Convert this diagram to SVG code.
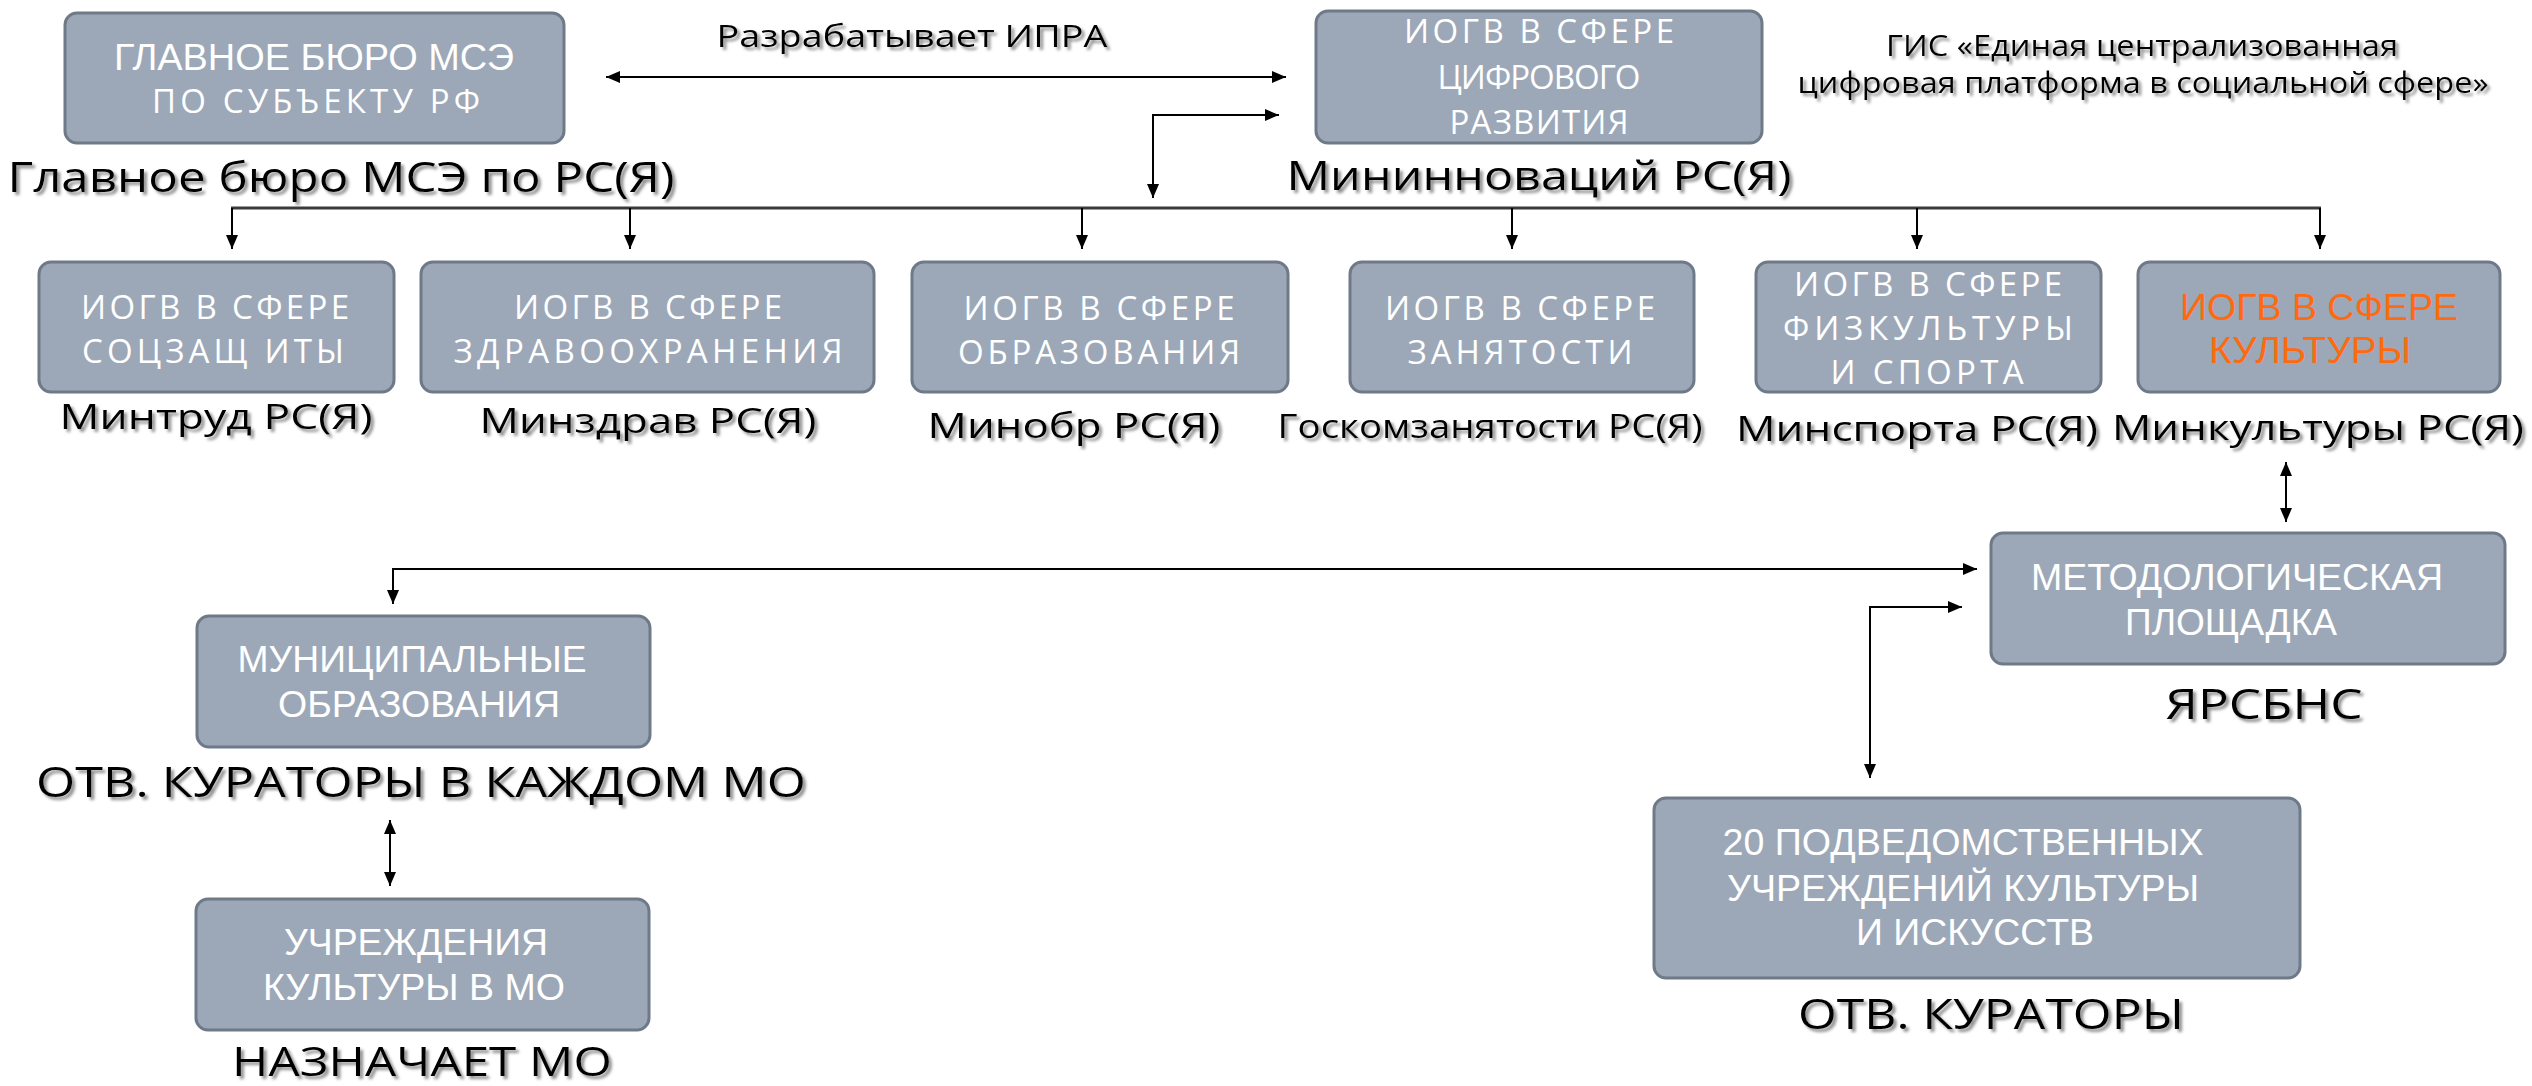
<svg xmlns="http://www.w3.org/2000/svg" width="2532" height="1086" viewBox="0 0 2532 1086">
<defs>
<style>
.box{fill:#9ca8b7;stroke:#6f7a88;stroke-width:3}
.os{font-family:"Open Sans","Liberation Sans",sans-serif;fill:#ffffff;font-size:33px;text-anchor:middle}
.ar{font-family:"Liberation Sans",Arial,sans-serif;fill:#ffffff;font-size:36px;text-anchor:middle}
.lbl{font-family:"Open Sans","Liberation Sans",sans-serif;fill:#000000;text-anchor:middle;filter:url(#sh)}
.orange{fill:#ff6a10}
.ln{fill:none;stroke:#000000;stroke-width:2}
.bus{fill:none;stroke:#3a3a3a;stroke-width:3}
</style>
<filter id="sh" x="-5%" y="-30%" width="110%" height="160%">
<feDropShadow dx="3" dy="3" stdDeviation="1.6" flood-color="#7a7a7a" flood-opacity="0.85"/>
</filter>
<marker id="ah" viewBox="0 0 14 12" refX="14" refY="6" markerWidth="14" markerHeight="12" markerUnits="userSpaceOnUse" orient="auto-start-reverse">
<path d="M0,0 L14,6 L0,12 z" fill="#000000"/>
</marker>
</defs>
<rect width="2532" height="1086" fill="#ffffff"/>

<g id="connectors">
<line class="ln" x1="606" y1="77" x2="1286" y2="77" marker-start="url(#ah)" marker-end="url(#ah)"/>
<path class="ln" d="M1153,198 V115 H1279" marker-start="url(#ah)" marker-end="url(#ah)"/>
<line class="bus" x1="231" y1="208" x2="2321" y2="208"/>
<line class="ln" x1="232" y1="208" x2="232" y2="249" marker-end="url(#ah)"/>
<line class="ln" x1="630" y1="208" x2="630" y2="249" marker-end="url(#ah)"/>
<line class="ln" x1="1082" y1="208" x2="1082" y2="249" marker-end="url(#ah)"/>
<line class="ln" x1="1512" y1="208" x2="1512" y2="249" marker-end="url(#ah)"/>
<line class="ln" x1="1917" y1="208" x2="1917" y2="249" marker-end="url(#ah)"/>
<line class="ln" x1="2320" y1="208" x2="2320" y2="249" marker-end="url(#ah)"/>
<line class="ln" x1="2286" y1="462" x2="2286" y2="522" marker-start="url(#ah)" marker-end="url(#ah)"/>
<path class="ln" d="M393,604 V569 H1977" marker-start="url(#ah)" marker-end="url(#ah)"/>
<path class="ln" d="M1870,778 V607 H1962" marker-start="url(#ah)" marker-end="url(#ah)"/>
<line class="ln" x1="390" y1="820" x2="390" y2="886" marker-start="url(#ah)" marker-end="url(#ah)"/>
</g>

<g id="label-ipra">
<text class="lbl" x="912" y="47" font-size="31" textLength="391" lengthAdjust="spacingAndGlyphs">Разрабатывает ИПРА</text>
</g>

<g id="node-gis">
<text class="lbl" x="2142" y="56" font-size="30" textLength="512" lengthAdjust="spacingAndGlyphs">ГИС «Единая централизованная</text>
<text class="lbl" x="2143" y="93" font-size="30" textLength="691" lengthAdjust="spacingAndGlyphs">цифровая платформа в социальной сфере»</text>
</g>

<g id="node-glavbyuro">
<rect class="box" x="65" y="13" width="499" height="130" rx="12"/>
<text class="ar" x="314" y="70" font-size="34" textLength="400" lengthAdjust="spacingAndGlyphs">ГЛАВНОЕ БЮРО МСЭ</text>
<text class="os" x="316" y="113" textLength="328" lengthAdjust="spacing">ПО СУБЪЕКТУ РФ</text>
<text class="lbl" x="341" y="192" font-size="42" textLength="667" lengthAdjust="spacingAndGlyphs">Главное бюро МСЭ по РС(Я)</text>
</g>

<g id="node-digital">
<rect class="box" x="1316" y="11" width="446" height="132" rx="12"/>
<text class="os" x="1539" y="43" textLength="270" lengthAdjust="spacing">ИОГВ В СФЕРЕ</text>
<text class="os" x="1539" y="89" textLength="203" lengthAdjust="spacing">ЦИФРОВОГО</text>
<text class="os" x="1539" y="134" textLength="179" lengthAdjust="spacing">РАЗВИТИЯ</text>
<text class="lbl" x="1539" y="190" font-size="40" textLength="505" lengthAdjust="spacingAndGlyphs">Мининноваций РС(Я)</text>
</g>

<g id="node-soc">
<rect class="box" x="39" y="262" width="355" height="130" rx="12"/>
<text class="os" x="215" y="319" textLength="268" lengthAdjust="spacing">ИОГВ В СФЕРЕ</text>
<text class="os" x="213" y="363" textLength="262" lengthAdjust="spacing">СОЦЗАЩ ИТЫ</text>
<text class="lbl" x="216" y="429" font-size="35" textLength="313" lengthAdjust="spacingAndGlyphs">Минтруд РС(Я)</text>
</g>

<g id="node-health">
<rect class="box" x="421" y="262" width="453" height="130" rx="12"/>
<text class="os" x="648" y="319" textLength="268" lengthAdjust="spacing">ИОГВ В СФЕРЕ</text>
<text class="os" x="648" y="363" textLength="389" lengthAdjust="spacing">ЗДРАВООХРАНЕНИЯ</text>
<text class="lbl" x="648" y="433" font-size="35" textLength="337" lengthAdjust="spacingAndGlyphs">Минздрав РС(Я)</text>
</g>

<g id="node-edu">
<rect class="box" x="912" y="262" width="376" height="130" rx="12"/>
<text class="os" x="1099" y="320" textLength="271" lengthAdjust="spacing">ИОГВ В СФЕРЕ</text>
<text class="os" x="1099" y="364" textLength="282" lengthAdjust="spacing">ОБРАЗОВАНИЯ</text>
<text class="lbl" x="1074" y="438" font-size="35" textLength="293" lengthAdjust="spacingAndGlyphs">Минобр РС(Я)</text>
</g>

<g id="node-employ">
<rect class="box" x="1350" y="262" width="344" height="130" rx="12"/>
<text class="os" x="1520" y="320" textLength="270" lengthAdjust="spacing">ИОГВ В СФЕРЕ</text>
<text class="os" x="1520" y="364" textLength="225" lengthAdjust="spacing">ЗАНЯТОСТИ</text>
<text class="lbl" x="1490" y="438" font-size="32" textLength="425" lengthAdjust="spacingAndGlyphs">Госкомзанятости РС(Я)</text>
</g>

<g id="node-sport">
<rect class="box" x="1756" y="262" width="345" height="130" rx="12"/>
<text class="os" x="1928" y="296" textLength="268" lengthAdjust="spacing">ИОГВ В СФЕРЕ</text>
<text class="os" x="1928" y="340" textLength="290" lengthAdjust="spacing">ФИЗКУЛЬТУРЫ</text>
<text class="os" x="1927" y="384" textLength="193" lengthAdjust="spacing">И СПОРТА</text>
<text class="lbl" x="1917" y="441" font-size="35" textLength="362" lengthAdjust="spacingAndGlyphs">Минспорта РС(Я)</text>
</g>

<g id="node-culture">
<rect class="box" x="2138" y="262" width="362" height="130" rx="12"/>
<text class="ar orange" x="2319" y="320" textLength="278" lengthAdjust="spacingAndGlyphs">ИОГВ В СФЕРЕ</text>
<text class="ar orange" x="2310" y="363" textLength="202" lengthAdjust="spacingAndGlyphs">КУЛЬТУРЫ</text>
<text class="lbl" x="2318" y="440" font-size="35" textLength="412" lengthAdjust="spacingAndGlyphs">Минкультуры РС(Я)</text>
</g>

<g id="node-method">
<rect class="box" x="1991" y="533" width="514" height="131" rx="12"/>
<text class="ar" x="2237" y="590" textLength="412" lengthAdjust="spacingAndGlyphs">МЕТОДОЛОГИЧЕСКАЯ</text>
<text class="ar" x="2231" y="635" textLength="212" lengthAdjust="spacingAndGlyphs">ПЛОЩАДКА</text>
<text class="lbl" x="2264" y="719" font-size="42" textLength="197" lengthAdjust="spacingAndGlyphs">ЯРСБНС</text>
</g>

<g id="node-mo">
<rect class="box" x="197" y="616" width="453" height="131" rx="12"/>
<text class="ar" x="412" y="672" textLength="349" lengthAdjust="spacingAndGlyphs">МУНИЦИПАЛЬНЫЕ</text>
<text class="ar" x="419" y="717" textLength="282" lengthAdjust="spacingAndGlyphs">ОБРАЗОВАНИЯ</text>
<text class="lbl" x="421" y="797" font-size="42" textLength="770" lengthAdjust="spacingAndGlyphs">ОТВ. КУРАТОРЫ В КАЖДОМ МО</text>
</g>

<g id="node-mo-culture">
<rect class="box" x="196" y="899" width="453" height="131" rx="12"/>
<text class="ar" x="416" y="955" textLength="264" lengthAdjust="spacingAndGlyphs">УЧРЕЖДЕНИЯ</text>
<text class="ar" x="414" y="1000" textLength="302" lengthAdjust="spacingAndGlyphs">КУЛЬТУРЫ В МО</text>
<text class="lbl" x="422" y="1076" font-size="41" textLength="380" lengthAdjust="spacingAndGlyphs">НАЗНАЧАЕТ МО</text>
</g>

<g id="node-20">
<rect class="box" x="1654" y="798" width="646" height="180" rx="12"/>
<text class="ar" x="1963" y="855" font-size="37" textLength="481" lengthAdjust="spacingAndGlyphs">20 ПОДВЕДОМСТВЕННЫХ</text>
<text class="ar" x="1963" y="901" font-size="37" textLength="472" lengthAdjust="spacingAndGlyphs">УЧРЕЖДЕНИЙ КУЛЬТУРЫ</text>
<text class="ar" x="1975" y="945" font-size="37" textLength="238" lengthAdjust="spacingAndGlyphs">И ИСКУССТВ</text>
<text class="lbl" x="1991" y="1029" font-size="42" textLength="386" lengthAdjust="spacingAndGlyphs">ОТВ. КУРАТОРЫ</text>
</g>
</svg>
